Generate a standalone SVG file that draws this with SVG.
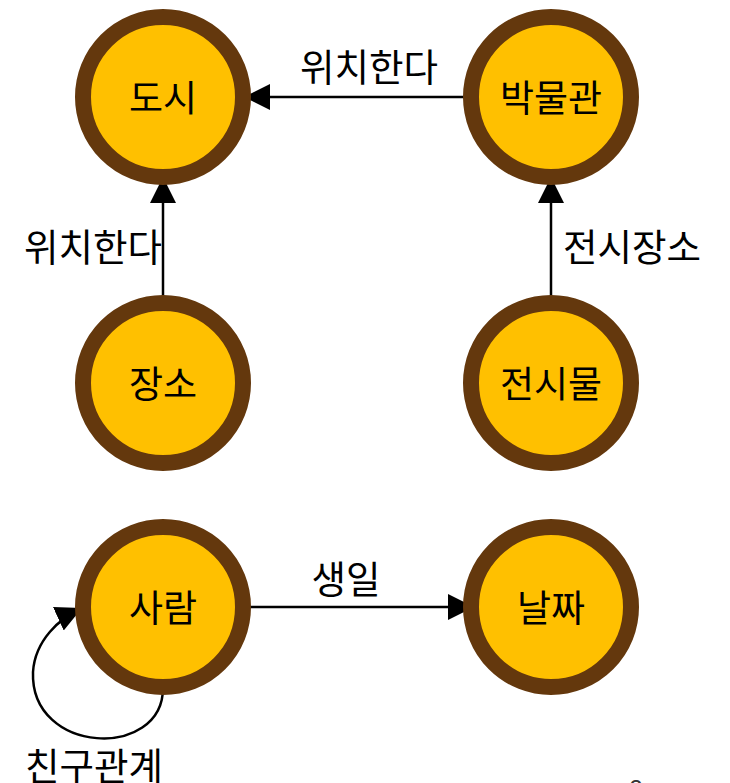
<svg xmlns="http://www.w3.org/2000/svg" width="730" height="783" viewBox="0 0 730 783">
  <style>
    .node circle { fill: #FFC000; stroke: #64380D; stroke-width: 16; }
    .node text { font-family: "Noto Sans CJK KR", "Noto Sans", sans-serif; font-size: 37px; fill: #000; text-anchor: middle; dominant-baseline: central; }
    .label { font-family: "Noto Sans CJK KR", "Noto Sans", sans-serif; font-size: 37.5px; fill: #000; text-anchor: middle; dominant-baseline: central; }
    .edge { fill: none; stroke: #000; stroke-width: 2.5; }
  </style>
  <defs>
    <marker id="arrow" markerUnits="userSpaceOnUse" markerWidth="27" markerHeight="27" refX="26" refY="13" orient="auto" viewBox="0 0 27 27">
      <path d="M0,0 L26,13 L0,26 z" fill="#000"/>
    </marker>
  </defs>
  <rect width="730" height="783" fill="#fff"/>

  <g id="connectors">
    <line class="edge" x1="472" y1="97" x2="244" y2="97" marker-end="url(#arrow)"/>
    <line class="edge" x1="163" y1="302" x2="163" y2="177" marker-end="url(#arrow)"/>
    <line class="edge" x1="551" y1="302" x2="551" y2="177" marker-end="url(#arrow)"/>
    <line class="edge" x1="243" y1="607" x2="474" y2="607" marker-end="url(#arrow)"/>
    <path class="edge" d="M163,688 C163,760 30,755 33,672 C35,640 60,618 82,608" marker-end="url(#arrow)"/>
    <text class="label" x="369" y="64">위치한다</text>
    <text class="label" x="93" y="244">위치한다</text>
    <text class="label" x="632" y="244">전시장소</text>
    <text class="label" x="346" y="576">생일</text>
    <text class="label" x="94" y="763">친구관계</text>
  </g>

  <g id="node-city" class="node"><circle cx="163" cy="97" r="80"/><text x="163" y="96">도시</text></g>
  <g id="node-museum" class="node"><circle cx="551" cy="97" r="80"/><text x="551" y="96">박물관</text></g>
  <g id="node-place" class="node"><circle cx="163" cy="383" r="80"/><text x="163" y="382">장소</text></g>
  <g id="node-exhibit" class="node"><circle cx="551" cy="383" r="80"/><text x="551" y="382">전시물</text></g>
  <g id="node-person" class="node"><circle cx="163" cy="607" r="80"/><text x="163" y="606">사람</text></g>
  <g id="node-date" class="node"><circle cx="551" cy="607" r="80"/><text x="551" y="606">날짜</text></g>

  <text x="636" y="797" font-family="Liberation Sans, sans-serif" font-size="24" fill="#333" text-anchor="middle">2</text>
</svg>
